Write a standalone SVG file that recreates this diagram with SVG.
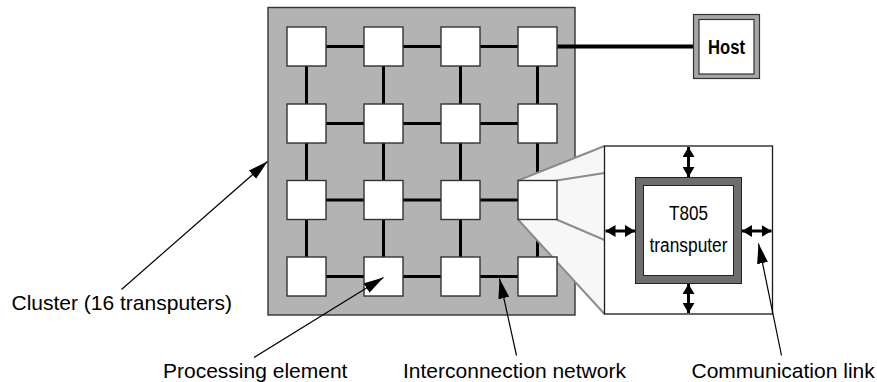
<svg xmlns="http://www.w3.org/2000/svg" width="877" height="382" viewBox="0 0 877 382">
  <defs>
    <style>
      .pe { fill: #ffffff; stroke: #333333; stroke-width: 1.4; }
      .mesh { stroke: #000000; stroke-width: 3; fill: none; }
      .pointer { stroke: #000000; stroke-width: 1.2; fill: none; marker-end: url(#pointerHead); }
      .link { stroke: #000000; stroke-width: 3; fill: none; marker-start: url(#linkHead); marker-end: url(#linkHead); }
      .funnel { stroke: #8c8c8c; stroke-width: 2; fill: none; }
      .label { font-family: "Liberation Sans", Arial, Helvetica, sans-serif; font-size: 21px; fill: #000000; }
      .chip { font-family: "Liberation Sans", Arial, Helvetica, sans-serif; font-size: 20px; fill: #000000; text-anchor: middle; }
    </style>
    <marker id="pointerHead" markerUnits="userSpaceOnUse" markerWidth="20" markerHeight="12" refX="20" refY="5.5" orient="auto">
      <path d="M0,0 L20,5.5 L0,11 Z" fill="#000000"/>
    </marker>
    <marker id="linkHead" markerUnits="userSpaceOnUse" markerWidth="10" markerHeight="12" refX="10" refY="6" orient="auto-start-reverse">
      <path d="M0,0 L10,6 L0,12 Z" fill="#000000"/>
    </marker>
  </defs>

  <rect width="877" height="382" fill="#ffffff"/>

  <!-- cluster board -->
  <g id="cluster">
    <rect x="268" y="7.5" width="307" height="307.5" fill="#b3b3b3" stroke="#333333" stroke-width="1.4"/>
  </g>

  <!-- mesh interconnection and host link -->
  <g id="connectors">
    <path class="mesh" d="M306.5,46.5 H537.5 M306.5,123.5 H537.5 M306.5,200 H537.5 M306.5,276.5 H537.5
                          M306.5,46.5 V276.5 M383.5,46.5 V276.5 M460.5,46.5 V276.5 M537.5,46.5 V276.5"/>
    <line x1="556" y1="46.5" x2="694" y2="46.5" stroke="#000000" stroke-width="4"/>
  </g>

  <!-- magnification funnel from one processing element to the detail view -->
  <g id="zoom-funnel">
    <polygon points="518,180.5 604.5,146 604.5,314 518,219.5" fill="#f7f7f7"/>
    <path class="funnel" d="M518,180.5 L604.5,146 M556.5,180.5 L604.5,173 M556.5,219.5 L604.5,240 M518,219.5 L604.5,314"/>
  </g>

  <!-- 4 x 4 processing elements -->
  <g id="pe-1-1"><rect class="pe" x="287" y="27" width="39" height="39"/></g>
  <g id="pe-1-2"><rect class="pe" x="364" y="27" width="39" height="39"/></g>
  <g id="pe-1-3"><rect class="pe" x="441" y="27" width="39" height="39"/></g>
  <g id="pe-1-4"><rect class="pe" x="518" y="27" width="39" height="39"/></g>
  <g id="pe-2-1"><rect class="pe" x="287" y="104" width="39" height="39"/></g>
  <g id="pe-2-2"><rect class="pe" x="364" y="104" width="39" height="39"/></g>
  <g id="pe-2-3"><rect class="pe" x="441" y="104" width="39" height="39"/></g>
  <g id="pe-2-4"><rect class="pe" x="518" y="104" width="39" height="39"/></g>
  <g id="pe-3-1"><rect class="pe" x="287" y="180.5" width="39" height="39"/></g>
  <g id="pe-3-2"><rect class="pe" x="364" y="180.5" width="39" height="39"/></g>
  <g id="pe-3-3"><rect class="pe" x="441" y="180.5" width="39" height="39"/></g>
  <g id="pe-3-4"><rect class="pe" x="518" y="180.5" width="39" height="39"/></g>
  <g id="pe-4-1"><rect class="pe" x="287" y="257" width="39" height="39"/></g>
  <g id="pe-4-2"><rect class="pe" x="364" y="257" width="39" height="39"/></g>
  <g id="pe-4-3"><rect class="pe" x="441" y="257" width="39" height="39"/></g>
  <g id="pe-4-4"><rect class="pe" x="518" y="257" width="39" height="39"/></g>

  <!-- host computer -->
  <g id="host">
    <rect x="693.5" y="14.5" width="66" height="64" fill="#a6a6a6" stroke="#333333" stroke-width="1.2"/>
    <rect x="699" y="19.5" width="55" height="54.5" fill="#ffffff" stroke="#333333" stroke-width="1.2"/>
    <text x="726.5" y="54" font-family="'Liberation Sans', Arial, Helvetica, sans-serif" font-size="20" font-weight="bold" text-anchor="middle" textLength="37" lengthAdjust="spacingAndGlyphs">Host</text>
  </g>

  <!-- detail view of one processing element -->
  <g id="detail">
    <rect x="604.5" y="146" width="168" height="168" fill="#ffffff" stroke="#1a1a1a" stroke-width="1.3"/>
    <g id="t805">
      <rect x="635.5" y="177.5" width="106" height="106" fill="#6e6e6e" stroke="#222222" stroke-width="1"/>
      <rect x="643.5" y="185.5" width="90" height="90" fill="#ffffff" stroke="#222222" stroke-width="1"/>
      <text class="chip" x="688.5" y="219.5" textLength="39" lengthAdjust="spacingAndGlyphs">T805</text>
      <text class="chip" x="688.5" y="251.5" textLength="78" lengthAdjust="spacingAndGlyphs">transputer</text>
    </g>
    <g id="links">
      <line class="link" x1="688.5" y1="147" x2="688.5" y2="177"/>
      <line class="link" x1="688.5" y1="284" x2="688.5" y2="313"/>
      <line class="link" x1="605.5" y1="231" x2="635" y2="231"/>
      <line class="link" x1="742" y1="231" x2="771.5" y2="231"/>
    </g>
  </g>

  <!-- callouts -->
  <g id="callouts">
    <line class="pointer" x1="121.5" y1="289.5" x2="267.5" y2="161.5"/>
    <line class="pointer" x1="254" y1="357.5" x2="383.5" y2="277.5"/>
    <line class="pointer" x1="516.5" y1="355.5" x2="499.5" y2="278.5"/>
    <line class="pointer" x1="781.5" y1="355.5" x2="758.5" y2="243.5"/>
  </g>

  <g id="labels">
    <text class="label" x="11.5" y="309.5">Cluster (16 transputers)</text>
    <text class="label" x="163" y="377.5">Processing element</text>
    <text class="label" x="403" y="377.5">Interconnection network</text>
    <text class="label" x="691.5" y="377.5">Communication link</text>
  </g>
</svg>
